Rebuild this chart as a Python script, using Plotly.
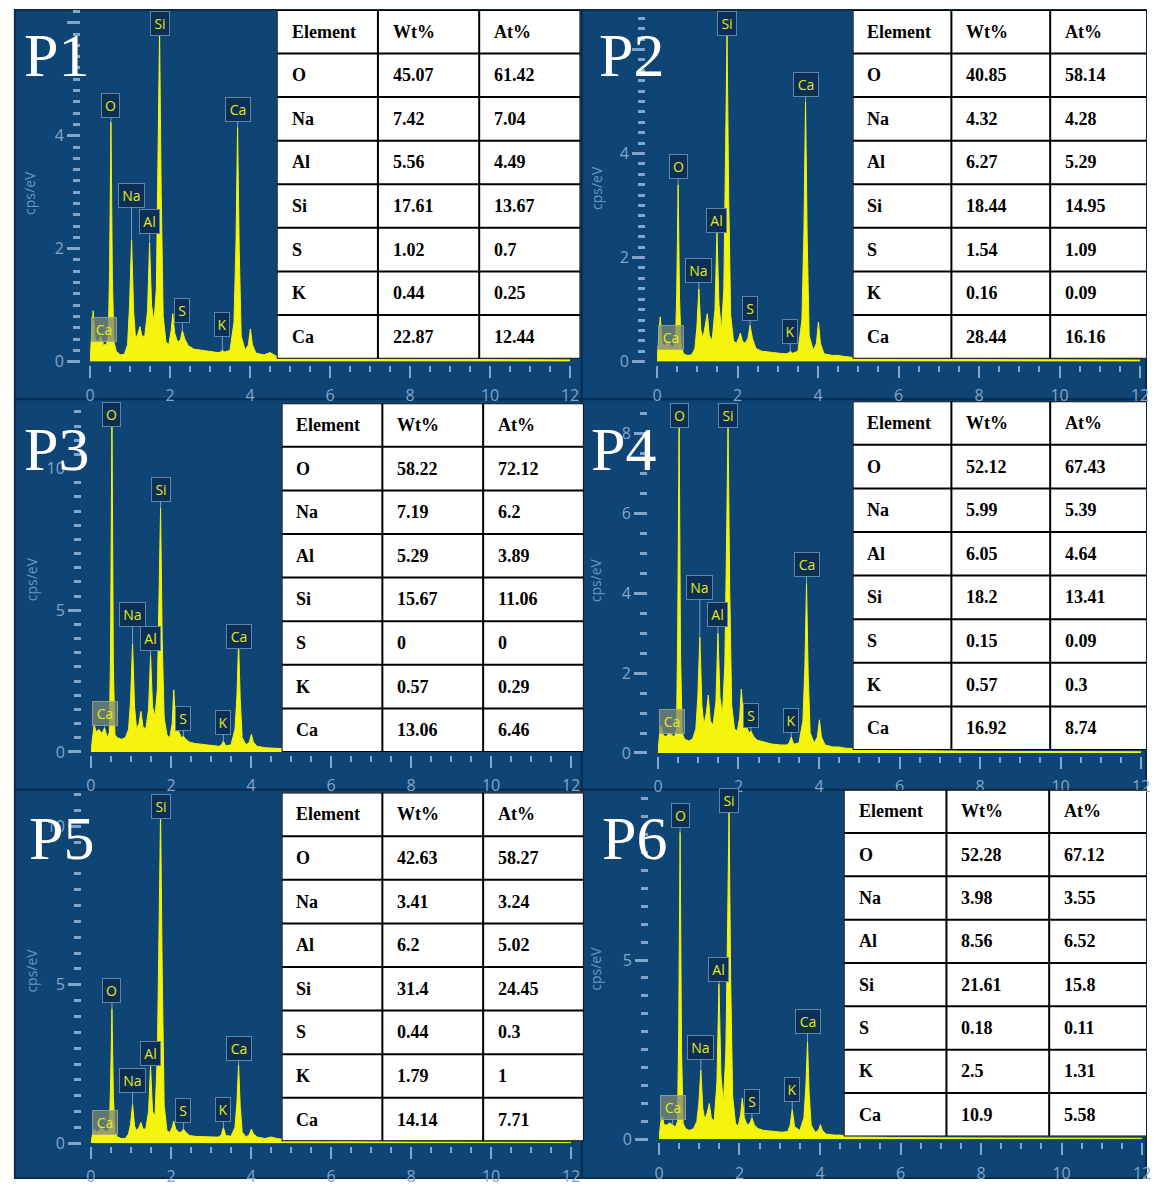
import plotly.graph_objects as go

W, H = 1155, 1189

# ---------------- DATA ----------------
PANEL_NAMES = ["P1", "P2", "P3", "P4", "P5", "P6"]

# energy grid (keV) shared by all spectra
ENERGY = [0.00, 0.04, 0.08, 0.13, 0.20, 0.27, 0.34, 0.41, 0.46, 0.49,
          0.525, 0.56, 0.60, 0.66, 0.76, 0.86, 0.94, 0.99, 1.04, 1.09,
          1.14, 1.20, 1.25, 1.30, 1.37, 1.44, 1.49, 1.54, 1.60, 1.66,
          1.70, 1.74, 1.78, 1.83, 1.90, 1.97, 2.03, 2.07, 2.12, 2.19,
          2.26, 2.31, 2.37, 2.46, 2.60, 2.85, 3.05, 3.20, 3.26, 3.31,
          3.37, 3.50, 3.60, 3.65, 3.69, 3.73, 3.78, 3.88, 3.96, 4.01,
          4.06, 4.15, 4.35, 4.50, 4.65, 5.00, 6.00, 8.00, 12.00]

# counts (cps/eV)
P1_CPS = [0, 0.55, 0.9, 0.4, 0.35, 0.45, 0.3, 0.3, 0.45, 1.6,
          4.24, 1.5, 0.35, 0.18, 0.12, 0.13, 0.3, 1.0, 2.16, 0.9,
          0.4, 0.5, 0.62, 0.45, 0.45, 0.9, 2.1, 1.0, 0.7, 1.3,
          3.4, 5.85, 3.0, 0.8, 0.35, 0.3, 0.55, 0.85, 0.5, 0.35,
          0.38, 0.55, 0.4, 0.28, 0.22, 0.2, 0.18, 0.16, 0.17, 0.2,
          0.17, 0.2, 0.7, 2.1, 4.15, 2.0, 0.45, 0.2, 0.3, 0.58,
          0.3, 0.15, 0.12, 0.16, 0.1, 0.07, 0.05, 0.04, 0.03]
P2_CPS = [0, 0.5, 0.86, 0.35, 0.3, 0.4, 0.3, 0.28, 0.4, 1.3,
          3.4, 1.2, 0.3, 0.15, 0.12, 0.13, 0.25, 0.65, 1.4, 0.6,
          0.45, 0.7, 0.92, 0.5, 0.4, 1.0, 2.48, 1.1, 0.6, 1.4,
          3.6, 6.3, 3.2, 0.9, 0.4, 0.35, 0.45, 0.55, 0.4, 0.35,
          0.45, 0.7, 0.45, 0.25, 0.2, 0.17, 0.16, 0.15, 0.16, 0.2,
          0.16, 0.2, 0.8, 2.5, 5.0, 2.4, 0.5, 0.22, 0.35, 0.76,
          0.35, 0.15, 0.12, 0.12, 0.1, 0.07, 0.05, 0.04, 0.03]
P3_CPS = [0, 0.6, 0.97, 0.7, 0.8, 0.65, 0.85, 0.5, 0.7, 3.5,
          12.0, 3.0, 0.6, 0.5, 0.45, 0.5, 0.8, 1.8, 3.82, 1.6,
          0.8, 1.0, 1.43, 0.9, 0.8, 1.5, 3.41, 1.6, 1.26, 2.2,
          5.0, 8.6, 4.0, 1.2, 0.6, 0.5, 1.0, 2.19, 0.9, 0.73,
          0.5, 0.56, 0.45, 0.35, 0.3, 0.25, 0.22, 0.2, 0.25, 0.38,
          0.22, 0.25, 0.8, 2.0, 3.88, 1.9, 0.5, 0.25, 0.35, 0.62,
          0.35, 0.2, 0.15, 0.14, 0.12, 0.1, 0.06, 0.04, 0.03]
P4_CPS = [0, 0.5, 0.7, 0.45, 0.4, 0.5, 0.45, 0.4, 0.6, 3.0,
          8.3, 2.5, 0.5, 0.35, 0.3, 0.35, 0.6, 1.4, 2.9, 1.2,
          0.7, 1.0, 1.45, 0.8, 0.7, 1.3, 3.0, 1.4, 0.95, 2.2,
          5.0, 8.3, 4.2, 1.2, 0.6, 0.55, 0.9, 1.6, 0.9, 0.7,
          0.5, 0.55, 0.42, 0.32, 0.28, 0.22, 0.2, 0.2, 0.25, 0.4,
          0.22, 0.25, 0.8, 2.2, 4.25, 2.0, 0.5, 0.25, 0.4, 0.83,
          0.4, 0.2, 0.15, 0.15, 0.12, 0.1, 0.06, 0.04, 0.03]
P5_CPS = [0, 0.3, 0.45, 0.35, 0.4, 0.5, 0.4, 0.35, 0.5, 1.8,
          4.25, 1.5, 0.35, 0.2, 0.15, 0.15, 0.3, 0.6, 1.23, 0.55,
          0.4, 0.5, 0.66, 0.45, 0.45, 1.0, 2.43, 1.0, 0.86, 2.8,
          6.5, 10.5, 5.5, 1.2, 0.4, 0.34, 0.5, 0.7, 0.45, 0.35,
          0.35, 0.45, 0.35, 0.25, 0.22, 0.2, 0.2, 0.2, 0.28, 0.5,
          0.25, 0.22, 0.5, 1.3, 2.48, 1.2, 0.35, 0.2, 0.28, 0.45,
          0.3, 0.2, 0.15, 0.2, 0.15, 0.1, 0.06, 0.04, 0.03]
P6_CPS = [0, 0.45, 0.65, 0.4, 0.4, 0.46, 0.4, 0.35, 0.5, 3.0,
          8.56, 2.5, 0.45, 0.3, 0.25, 0.3, 0.5, 1.0, 1.93, 0.85,
          0.55, 0.75, 1.0, 0.6, 0.5, 1.6, 4.33, 1.8, 1.0, 2.4,
          5.5, 9.2, 4.5, 1.2, 0.45, 0.37, 0.7, 1.15, 0.6, 0.4,
          0.45, 0.6, 0.4, 0.3, 0.25, 0.22, 0.2, 0.22, 0.4, 0.83,
          0.35, 0.25, 0.6, 1.5, 2.72, 1.3, 0.4, 0.2, 0.25, 0.41,
          0.25, 0.15, 0.12, 0.12, 0.1, 0.08, 0.05, 0.04, 0.03]
SPECTRA = [P1_CPS, P2_CPS, P3_CPS, P4_CPS, P5_CPS, P6_CPS]

# peak labels: name and line energy (keV)
PEAK_LABELS = ["Ca L", "O", "Na", "Al", "Si", "S", "K", "Ca"]
PEAK_ENERGY = [0.34, 0.525, 1.04, 1.49, 1.74, 2.31, 3.31, 3.69]

# axis tick labels
X_TICKS = [0, 2, 4, 6, 8, 10, 12]
Y_TICKS = [[0, 2, 4, 6], [0, 2, 4, 6], [0, 5, 10], [0, 2, 4, 6, 8], [0, 5, 10], [0, 5]]
Y_TICKTEXT = [["0", "2", "4", ""], ["0", "2", "4", ""], ["0", "5", "10"],
              ["0", "2", "4", "6", "8"], ["0", "5", "10"], ["0", "5"]]
Y_MINOR = [0.2, 0.2, 0.5, 0.5, 0.5, 0.5]

# composition tables
TABLE_HEADER = ["Element", "Wt%", "At%"]
ELEMENTS = ["O", "Na", "Al", "Si", "S", "K", "Ca"]
P1_WT = ["45.07", "7.42", "5.56", "17.61", "1.02", "0.44", "22.87"]
P1_AT = ["61.42", "7.04", "4.49", "13.67", "0.7", "0.25", "12.44"]
P2_WT = ["40.85", "4.32", "6.27", "18.44", "1.54", "0.16", "28.44"]
P2_AT = ["58.14", "4.28", "5.29", "14.95", "1.09", "0.09", "16.16"]
P3_WT = ["58.22", "7.19", "5.29", "15.67", "0", "0.57", "13.06"]
P3_AT = ["72.12", "6.2", "3.89", "11.06", "0", "0.29", "6.46"]
P4_WT = ["52.12", "5.99", "6.05", "18.2", "0.15", "0.57", "16.92"]
P4_AT = ["67.43", "5.39", "4.64", "13.41", "0.09", "0.3", "8.74"]
P5_WT = ["42.63", "3.41", "6.2", "31.4", "0.44", "1.79", "14.14"]
P5_AT = ["58.27", "3.24", "5.02", "24.45", "0.3", "1", "7.71"]
P6_WT = ["52.28", "3.98", "8.56", "21.61", "0.18", "2.5", "10.9"]
P6_AT = ["67.12", "3.55", "6.52", "15.8", "0.11", "1.31", "5.58"]
WT = [P1_WT, P2_WT, P3_WT, P4_WT, P5_WT, P6_WT]
AT = [P1_AT, P2_AT, P3_AT, P4_AT, P5_AT, P6_AT]

# ---------------- LAYOUT / STYLE ----------------
# pixel geometry of each spectrum panel
GEOM = [
    dict(x0=86, ppk=40.5, y0=365, ppu=57.0, top=10, yax=76, xax=368, rect=(10, 10, 584, 403), ptxt=(52, 56), ylab=(24, 195)),
    dict(x0=660, ppk=40.75, y0=365, ppu=52.5, top=10, yax=648, xax=368, rect=(584, 10, 1155, 403), ptxt=(634, 56), ylab=(598, 190)),
    dict(x0=87, ppk=40.5, y0=759, ppu=28.6, top=403, yax=77, xax=762, rect=(10, 403, 584, 797), ptxt=(52, 453), ylab=(27, 585)),
    dict(x0=661, ppk=40.75, y0=760, ppu=40.3, top=403, yax=650, xax=763, rect=(584, 403, 1155, 797), ptxt=(626, 453), ylab=(598, 586)),
    dict(x0=87, ppk=40.5, y0=1154, ppu=32.0, top=797, yax=77, xax=1157, rect=(10, 797, 584, 1189), ptxt=(57, 846), ylab=(27, 980)),
    dict(x0=662, ppk=40.75, y0=1150, ppu=36.2, top=797, yax=651, xax=1153, rect=(584, 797, 1155, 1189), ptxt=(637, 846), ylab=(598, 978)),
]
# table geometry: left, top, column width, row height (px)
TGEOM = [(275, 10, 102.5, 44), (858, 10, 100, 44), (280, 407, 102, 44),
         (858, 405, 100, 44), (280, 800, 102, 44), (849, 797, 104, 43.75)]
# label box centres (cps/eV) per panel, in PEAK_LABELS order
LABEL_Y = [
    [0.56, 4.53, 2.95, 2.49, 5.98, 0.91, 0.65, 4.47],
    [0.46, 3.75, 1.75, 2.72, 6.50, 1.03, 0.57, 5.33],
    [1.36, 11.92, 4.86, 3.99, 9.27, 1.19, 1.05, 4.09],
    [0.79, 8.44, 4.14, 3.47, 8.44, 0.94, 0.82, 4.71],
    [0.66, 4.81, 1.97, 2.84, 10.63, 1.03, 1.06, 3.00],
    [0.88, 9.03, 2.57, 4.75, 9.45, 1.05, 1.38, 3.29],
]
LABEL_W = {"Ca L": 20, "O": 13, "Na": 21, "Al": 15, "Si": 14, "S": 10, "K": 10, "Ca": 20}

PANEL_BG = "#0f4575"
PANEL_EDGE = "#092c4e"
YELLOW = "#f4f40c"
TICK_C = "#82a6c9"
LABEL_TXT = "#e3ea1a"

fig = go.Figure()
shapes, annotations = [], []
lay = {}


def xid(k):
    return "x" if k == 1 else f"x{k}"


def yid(k):
    return "y" if k == 1 else f"y{k}"


def axkey(a, k):
    return f"{a}axis" if k == 1 else f"{a}axis{k}"


for i, g in enumerate(GEOM):
    k = i + 1
    x0r, y0r, x1r, y1r = g["rect"]
    shapes.append(dict(type="rect", xref="paper", yref="paper", layer="below",
                       x0=x0r / W, x1=x1r / W, y0=1 - y1r / H, y1=1 - y0r / H,
                       fillcolor=PANEL_BG, line=dict(color=PANEL_EDGE, width=2)))
    ytop = (g["y0"] - g["top"]) / g["ppu"]
    fig.add_trace(go.Scatter(x=ENERGY, y=SPECTRA[i], xaxis=xid(k), yaxis=yid(k),
                             mode="lines", line=dict(color=YELLOW, width=1),
                             fill="tozeroy", fillcolor=YELLOW, hoverinfo="skip",
                             showlegend=False))
    lay[axkey("x", k)] = dict(
        domain=[g["x0"] / W, (g["x0"] + 12 * g["ppk"]) / W], range=[0, 12],
        anchor="free", position=1 - g["xax"] / H, showgrid=False, zeroline=False,
        showline=False, ticks="outside", tickvals=X_TICKS, ticktext=[str(v) for v in X_TICKS],
        ticklen=12, tickwidth=2, tickcolor=TICK_C, ticklabelstandoff=4,
        tickfont=dict(family="Open Sans", size=16, color=TICK_C),
        minor=dict(dtick=0.5, tick0=0, ticklen=6, tickwidth=2, tickcolor=TICK_C,
                   ticks="outside", showgrid=False),
        fixedrange=True)
    lay[axkey("y", k)] = dict(
        domain=[1 - g["y0"] / H, 1 - g["top"] / H], range=[0, ytop],
        anchor="free", position=g["yax"] / W, showgrid=False, zeroline=False,
        showline=False, ticks="outside", tickvals=Y_TICKS[i], ticktext=Y_TICKTEXT[i],
        ticklen=13, tickwidth=3, tickcolor=TICK_C,
        tickfont=dict(family="Open Sans", size=16, color=TICK_C),
        minor=dict(dtick=Y_MINOR[i], tick0=0, ticklen=7, tickwidth=3, tickcolor=TICK_C,
                   ticks="outside", showgrid=False),
        fixedrange=True)
    annotations.append(dict(text="cps/eV", xref="paper", yref="paper",
                            x=g["ylab"][0] / W, y=1 - g["ylab"][1] / H, textangle=-90,
                            showarrow=False, xanchor="center", yanchor="middle",
                            font=dict(family="Open Sans", size=14, color="#6a95bf")))
    for j, name in enumerate(PEAK_LABELS):
        e = PEAK_ENERGY[j]
        idx = min(range(len(ENERGY)), key=lambda n: abs(ENERGY[n] - e))
        tip = min(SPECTRA[i][idx], ytop)
        grey = name == "Ca L"
        annotations.append(dict(
            text=name.split()[0], x=e, y=tip, xref=xid(k), yref=yid(k),
            ax=e, ay=LABEL_Y[i][j], axref=xid(k), ayref=yid(k),
            showarrow=True, arrowhead=0, arrowwidth=1, arrowcolor="#7d9fbd",
            font=dict(family="Open Sans", size=14, color=LABEL_TXT),
            bgcolor="rgba(125,135,120,0.75)" if grey else "#0c2f55",
            bordercolor="rgba(160,170,150,0.8)" if grey else "#5f86a8",
            borderwidth=1, borderpad=2, width=LABEL_W[name]))
    annotations.append(dict(text=PANEL_NAMES[i], xref="paper", yref="paper",
                            x=g["ptxt"][0] / W, y=1 - g["ptxt"][1] / H, showarrow=False,
                            xanchor="center", yanchor="middle",
                            font=dict(family="Liberation Serif", size=62, color="white")))

for i, (left, top, cw, rh) in enumerate(TGEOM):
    k = 7 + i
    right_px = min(W, left + 3 * cw)
    nrows = 1 + len(ELEMENTS)
    lay[axkey("x", k)] = dict(domain=[left / W, right_px / W], range=[0, (right_px - left) / cw],
                              visible=False, fixedrange=True, anchor=yid(k))
    lay[axkey("y", k)] = dict(domain=[1 - (top + nrows * rh) / H, 1 - top / H], range=[nrows, 0],
                              visible=False, fixedrange=True, anchor=xid(k))
    shapes.append(dict(type="rect", xref=xid(k), yref=yid(k), layer="above",
                       x0=0, x1=3, y0=0, y1=nrows, fillcolor="white",
                       line=dict(color="black", width=2)))
    for c in range(1, 3):
        shapes.append(dict(type="line", xref=xid(k), yref=yid(k), layer="above",
                           x0=c, x1=c, y0=0, y1=nrows, line=dict(color="black", width=2)))
    for r in range(1, nrows):
        shapes.append(dict(type="line", xref=xid(k), yref=yid(k), layer="above",
                           x0=0, x1=3, y0=r, y1=r, line=dict(color="black", width=2)))
    rows = [TABLE_HEADER] + [[ELEMENTS[n], WT[i][n], AT[i][n]] for n in range(len(ELEMENTS))]
    pad = 13 / cw
    for r, row in enumerate(rows):
        for c, val in enumerate(row):
            annotations.append(dict(text=f"<b>{val}</b>", xref=xid(k), yref=yid(k),
                                    x=c + pad, y=r + 0.5, xanchor="left", yanchor="middle",
                                    showarrow=False,
                                    font=dict(family="Liberation Serif", size=18, color="black")))
    fig.add_trace(go.Scatter(x=[0], y=[0], xaxis=xid(k), yaxis=yid(k), mode="markers",
                             marker=dict(opacity=0), hoverinfo="skip", showlegend=False))

fig.update_layout(width=W, height=H, margin=dict(l=0, r=0, t=0, b=0),
                  paper_bgcolor="white", plot_bgcolor="rgba(0,0,0,0)",
                  shapes=shapes, annotations=annotations, showlegend=False, **lay)

fig.write_html("out.html", config={"displayModeBar": False},
               post_script="document.body.style.margin='0px';document.body.style.overflow='hidden';")
